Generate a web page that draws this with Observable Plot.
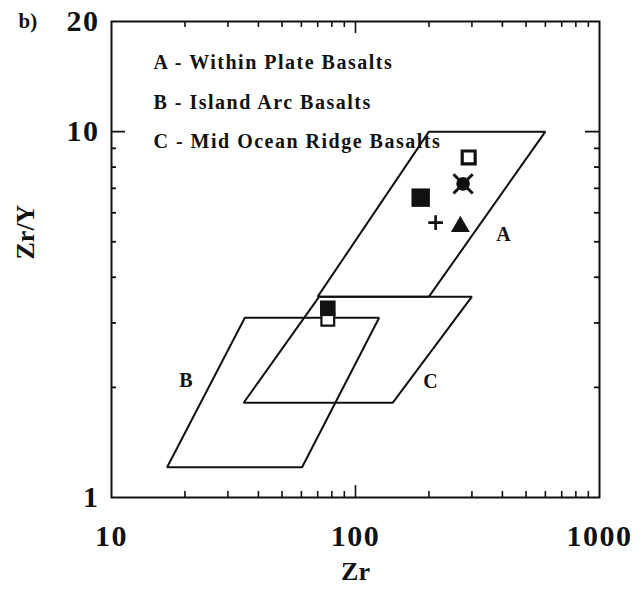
<!DOCTYPE html>
<html>
<head>
<meta charset="utf-8">
<script src="https://cdn.jsdelivr.net/npm/d3@7"></script>
<script src="https://cdn.jsdelivr.net/npm/@observablehq/plot@0.6"></script>
<style>
  html, body { margin: 0; padding: 0; background: #fff; }
</style>
</head>
<body>
<div id="chart"></div>
<script>
// Tectonic discrimination fields (Zr in ppm against Zr/Y), vertices in drawing order
const fieldLetters = ["A", "B", "C"];
const fieldNames = ["Within Plate Basalts", "Island Arc Basalts", "Mid Ocean Ridge Basalts"];
const fieldAZr  = [70, 200, 600, 200];
const fieldAZrY = [3.54, 10, 10, 3.54];
const fieldBZr  = [35.2, 125, 60.4, 16.9];
const fieldBZrY = [3.1, 3.1, 1.21, 1.21];
const fieldCZr  = [71, 300, 142, 34.8];
const fieldCZrY = [3.54, 3.54, 1.815, 1.815];

// Analysed samples
const sampleType = ["open square", "circle cross", "filled square", "plus", "triangle", "open square", "filled square"];
const sampleZr   = [291, 276, 185, 213, 269, 77, 77];
const sampleZrY  = [8.5, 7.2, 6.6, 5.64, 5.5, 3.07, 3.29];

// Axis ticks
const xTickLabels = [10, 100, 1000];
const yTickLabels = [1, 10, 20];
const xMajorTicks = [100];
const xMinorTicks = [20, 30, 40, 50, 60, 70, 80, 90, 200, 300, 400, 500, 600, 700, 800, 900];
const yMajorTicks = [10];
const yMinorTicks = [2, 3, 4, 5, 6, 7, 8, 9];

const fieldVertices = [
  {zr: fieldAZr, zry: fieldAZrY},
  {zr: fieldBZr, zry: fieldBZrY},
  {zr: fieldCZr, zry: fieldCZrY}
].flatMap((f, i) => f.zr.map((zr, j) => ({field: fieldLetters[i], zr, zry: f.zry[j]})));

const samples = sampleType.map((type, i) => ({type, zr: sampleZr[i], zry: sampleZrY[i]}));
const ofType = (t, upper) => samples.filter(d => d.type === t && (upper === undefined || (d.zry > 5) === upper));

const legendText = fieldLetters.map((l, i) => `${l} - ${fieldNames[i]}`).join("\n");

const [xMin, xMax] = [10, 1000];
const [yMin, yMax] = [1, 20];
const ink = "#111";

// short inward ticks: zero-length rules on an edge, extended by an inset
const ticksBottom = (t, len) => Plot.ruleX(t, {x: d => d, y1: yMin, y2: yMin, insetBottom: len, stroke: ink, strokeWidth: 1.6});
const ticksTop    = (t, len) => Plot.ruleX(t, {x: d => d, y1: yMax, y2: yMax, insetTop: len, stroke: ink, strokeWidth: 1.6});
const ticksLeft   = (t, len) => Plot.ruleY(t, {y: d => d, x1: xMin, x2: xMin, insetLeft: len, stroke: ink, strokeWidth: 1.8});
const ticksRight  = (t, len) => Plot.ruleY(t, {y: d => d, x1: xMax, x2: xMax, insetRight: len, stroke: ink, strokeWidth: 1.8});

const chart = Plot.plot({
  width: 641,
  height: 589,
  marginLeft: 111,
  marginRight: 42,
  marginTop: 21,
  marginBottom: 92,
  style: {fontFamily: "'Liberation Serif', 'Times New Roman', serif", fontWeight: "bold", color: ink, background: "#fff"},
  x: {type: "log", domain: [xMin, xMax], axis: null},
  y: {type: "log", domain: [yMin, yMax], axis: null},
  marks: [
    ticksBottom(xMinorTicks, 6), ticksBottom(xMajorTicks, 12),
    ticksTop(xMinorTicks, 6), ticksTop(xMajorTicks, 12),
    ticksLeft(yMinorTicks, 5), ticksLeft(yMajorTicks, 14),
    ticksRight(yMinorTicks, 5), ticksRight(yMajorTicks, 14),
    // tick labels
    Plot.text(xTickLabels, {x: d => d, frameAnchor: "bottom", lineAnchor: "bottom", dy: 48,
      text: d => String(d), fontSize: 30, fill: ink}),
    Plot.text(yTickLabels, {y: d => d, frameAnchor: "left", textAnchor: "end", dx: -12,
      text: d => String(d), fontSize: 30, fill: ink}),
    Plot.frame({stroke: ink, strokeWidth: 2}),
    // fields
    Plot.line(fieldVertices, {x: "zr", y: "zry", z: "field", curve: "linear-closed",
      stroke: ink, strokeWidth: 2, strokeLinejoin: "miter"}),
    Plot.text([
      {t: "A", zr: 404, zry: 5.23},
      {t: "B", zr: 20.2, zry: 2.09},
      {t: "C", zr: 203, zry: 2.07}
    ], {x: "zr", y: "zry", text: "t", fontSize: 20, fill: ink}),
    // samples
    Plot.dot(ofType("open square", false), {x: "zr", y: "zry", symbol: "square", r: 7.2,
      stroke: ink, strokeWidth: 2.2, fill: "#fff"}),
    Plot.dot(ofType("filled square", false), {x: "zr", y: "zry", symbol: "square", r: 8.8, fill: ink}),
    Plot.dot(ofType("open square", true), {x: "zr", y: "zry", symbol: "square", r: 7.3,
      stroke: ink, strokeWidth: 3.2, fill: "#fff"}),
    Plot.dot(ofType("filled square", true), {x: "zr", y: "zry", symbol: "square", r: 10.4, fill: ink}),
    Plot.dot(ofType("circle cross"), {x: "zr", y: "zry", symbol: "circle", r: 6.8, fill: ink}),
    Plot.dot(ofType("circle cross"), {x: "zr", y: "zry", symbol: "times", r: 8.8, stroke: ink, strokeWidth: 3}),
    Plot.dot(ofType("plus"), {x: "zr", y: "zry", symbol: "plus", r: 4.8, stroke: ink, strokeWidth: 2.6}),
    Plot.dot(ofType("triangle"), {x: "zr", y: "zry", symbol: "triangle", r: 7, fill: ink}),
    // legend inside the frame
    Plot.text([legendText], {frameAnchor: "top-left", dx: 42, dy: 20, text: d => d,
      textAnchor: "start", lineAnchor: "top", lineHeight: 1.97, fontSize: 20, fill: ink}),
    // axis titles and panel tag
    Plot.text(["Zr"], {frameAnchor: "bottom", dy: 82, lineAnchor: "bottom", text: d => d, fontSize: 26, fill: ink}),
    Plot.text(["Zr/Y"], {frameAnchor: "left", dx: -86, rotate: -90, text: d => d, fontSize: 26, fill: ink}),
    Plot.text(["b)"], {frameAnchor: "top-left", dx: -93, dy: 6, lineAnchor: "bottom", textAnchor: "start",
      text: d => d, fontSize: 21, fill: ink})
  ]
});

// the typeset lettering is set a little wide
const svgText = d3.select(chart).selectAll("text");
svgText.filter(function() { return this.textContent.includes("Basalts"); })
  .style("letter-spacing", "1.5px");
svgText.filter(function() { return /^\d+$/.test(this.textContent); })
  .style("letter-spacing", "1.5px");

document.getElementById("chart").append(chart);
</script>
</body>
</html>
